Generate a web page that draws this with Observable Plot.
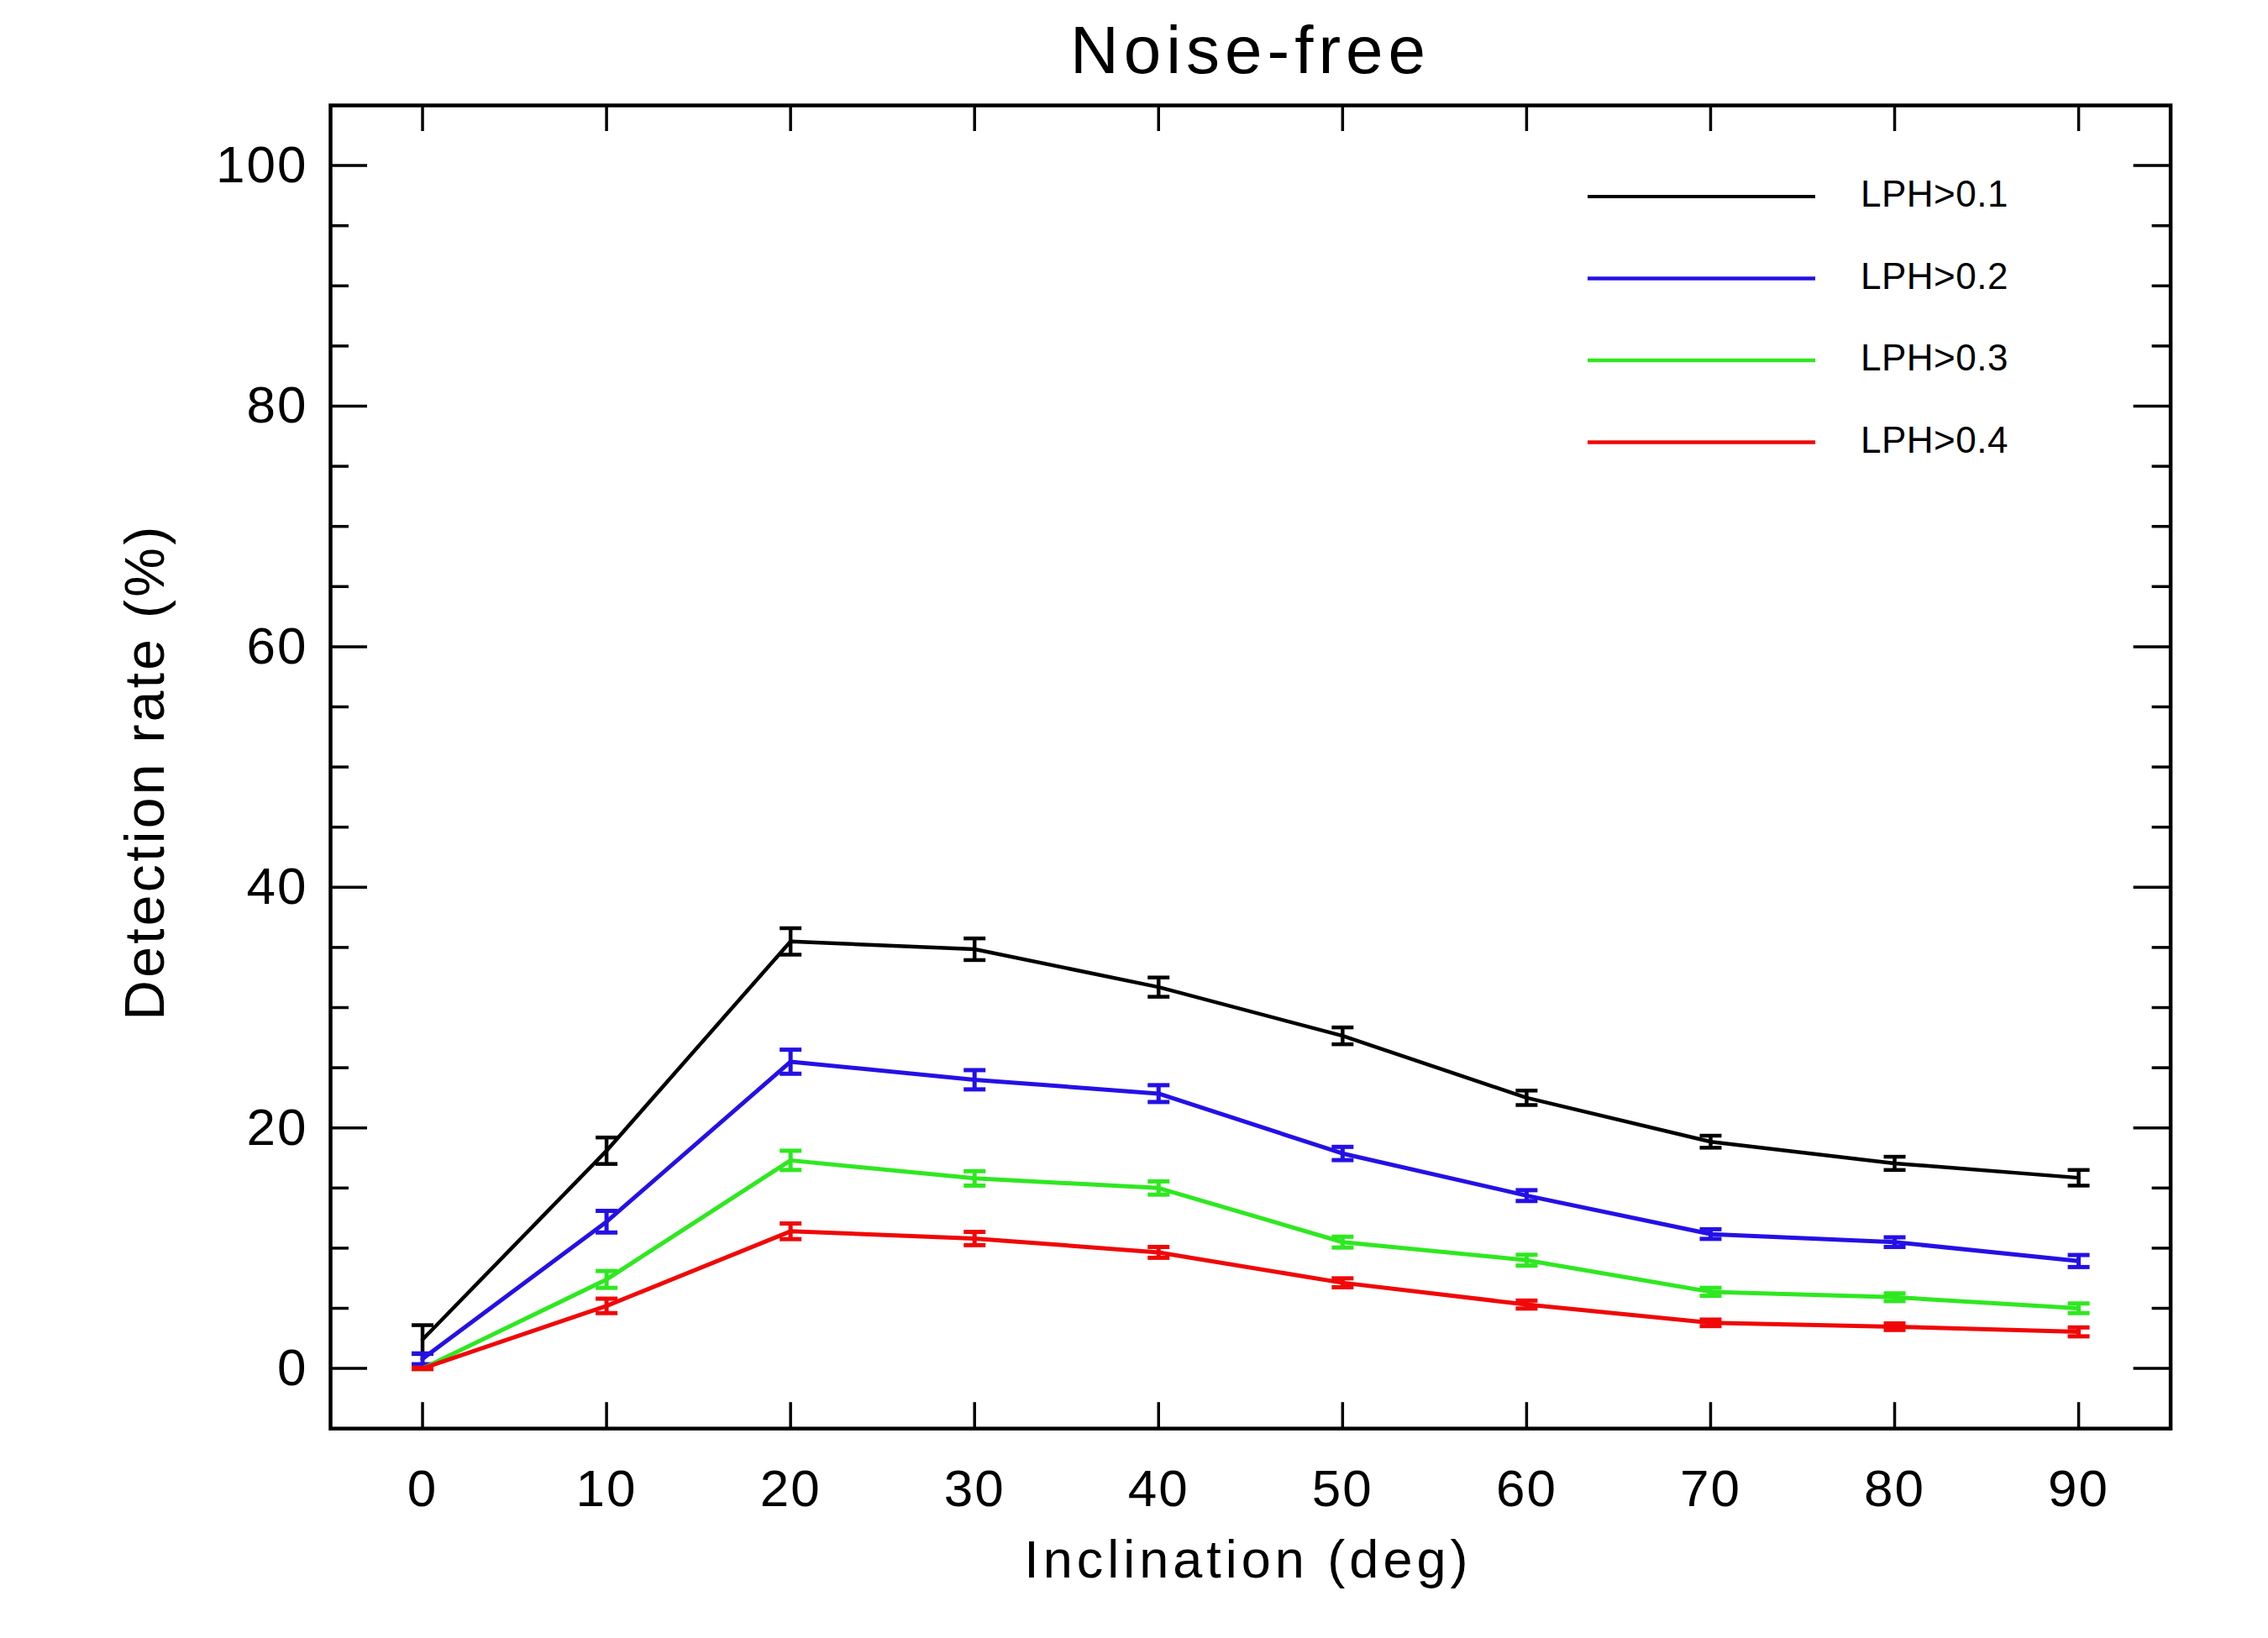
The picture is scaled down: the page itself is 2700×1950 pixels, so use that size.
<!DOCTYPE html>
<html><head><meta charset="utf-8">
<script src="https://cdn.jsdelivr.net/npm/d3@7"></script>
<script src="https://cdn.jsdelivr.net/npm/@observablehq/plot@0.6"></script>
<style>
html,body{margin:0;padding:0;background:#fff;}
#wrap{position:relative;width:2700px;height:1950px;font-family:"Liberation Sans",Arial,sans-serif;color:#000;}
#title{box-sizing:border-box;height:115px;padding:5px 116px 0 393px;line-height:110px;text-align:center;font-size:80px;letter-spacing:6px;white-space:nowrap;}
#legend{position:absolute;left:0;top:0;pointer-events:none;}
#chart svg g[aria-label="x-axis tick label"] text, #chart svg g[aria-label="y-axis tick label"] text{letter-spacing:2px;}
#chart svg g.xlab text{letter-spacing:5px;}
#chart svg g.ylab text{letter-spacing:3.3px;}
</style></head><body>
<div id="wrap"><div id="title"></div><div id="chart"></div><svg id="legend" width="2700" height="1950"></svg></div>
<script>
// ---- data ----
const titleText = "Noise-free";
const xLabel = "Inclination (deg)";
const yLabel = "Detection rate (%)";
const inclination = [0, 10, 20, 30, 40, 50, 60, 70, 80, 90];
const seriesNames = ["LPH>0.1", "LPH>0.2", "LPH>0.3", "LPH>0.4"];
const seriesColors = ["#000000", "#2410e6", "#2ee820", "#f00808"];
const rate01 = [2.4, 18.1, 35.5, 34.85, 31.7, 27.65, 22.5, 18.85, 17.05, 15.85];
const err01  = [1.2, 1.1, 1.1, 0.9, 0.8, 0.7, 0.6, 0.5, 0.55, 0.65];
const rate02 = [0.8, 12.2, 25.5, 24.0, 22.85, 17.87, 14.37, 11.17, 10.5, 8.93];
const err02  = [0.45, 0.9, 1.0, 0.8, 0.7, 0.55, 0.45, 0.4, 0.4, 0.5];
const rate03 = [0.0, 7.4, 17.3, 15.8, 15.0, 10.5, 9.0, 6.37, 5.92, 5.0];
const err03  = [0.05, 0.7, 0.8, 0.6, 0.55, 0.45, 0.45, 0.33, 0.32, 0.4];
const rate04 = [0.0, 5.2, 11.4, 10.8, 9.65, 7.12, 5.31, 3.79, 3.47, 3.04];
const err04  = [0.05, 0.6, 0.65, 0.55, 0.45, 0.37, 0.33, 0.27, 0.27, 0.37];
const xTickValues = [0, 10, 20, 30, 40, 50, 60, 70, 80, 90];
const yMajorTicks = [0, 20, 40, 60, 80, 100];
const yMinorTicks = [5, 10, 15, 25, 30, 35, 45, 50, 55, 65, 70, 75, 85, 90, 95];
const xDomain = [-5, 95];
const yDomain = [-5, 105];

// ---- layout / style ----
const rates = [rate01, rate02, rate03, rate04];
const errs = [err01, err02, err03, err04];
const lineWidths = [4.5, 5, 5, 5];
const legendWidths = [3.8, 4.5, 4.5, 4.5];
const W = 2700, H = 1835;
const mL = 393, mR = 116.4, mT = 10, mB = 249.8;
const plotW = W - mL - mR, plotH = H - mT - mB;
const xTickLen = 31, yMajLen = 44, yMinLen = 22;

document.getElementById("title").textContent = titleText;

const rows = [];
seriesNames.forEach((name, s) => inclination.forEach((inc, i) => rows.push({
  s, series: name, x: inc, y: rates[s][i], lo: rates[s][i] - errs[s][i], hi: rates[s][i] + errs[s][i]
})));

const capSymbol = {draw(ctx, size) { const r = Math.sqrt(size / Math.PI); ctx.moveTo(-r, 0); ctx.lineTo(r, 0); }};

const marks = [];
// ticks (inward)
marks.push(Plot.tickX(xTickValues, {x: d => d, insetTop: plotH - xTickLen, stroke: "#000", strokeWidth: 3.5}));
marks.push(Plot.tickX(xTickValues, {x: d => d, insetBottom: plotH - xTickLen, stroke: "#000", strokeWidth: 3.5}));
marks.push(Plot.tickY(yMajorTicks, {y: d => d, insetRight: plotW - yMajLen, stroke: "#000", strokeWidth: 3.5}));
marks.push(Plot.tickY(yMajorTicks, {y: d => d, insetLeft: plotW - yMajLen, stroke: "#000", strokeWidth: 3.5}));
marks.push(Plot.tickY(yMinorTicks, {y: d => d, insetRight: plotW - yMinLen, stroke: "#000", strokeWidth: 3.5}));
marks.push(Plot.tickY(yMinorTicks, {y: d => d, insetLeft: plotW - yMinLen, stroke: "#000", strokeWidth: 3.5}));
// tick labels
marks.push(Plot.axisX({ticks: xTickValues, tickSize: 0, tickPadding: 48, fontSize: 62, label: null}));
marks.push(Plot.axisY({ticks: yMajorTicks, tickSize: 0, tickPadding: 27, fontSize: 62, label: null}));
// axis titles
marks.push(Plot.text([xLabel], {text: d => d, frameAnchor: "bottom", lineAnchor: "bottom", textAnchor: "middle", dy: 177, dx: -3, fontSize: 63, className: "xlab"}));
marks.push(Plot.text([yLabel], {text: d => d, frameAnchor: "left", rotate: -90, lineAnchor: "bottom", textAnchor: "middle", dx: -199, dy: 6, fontSize: 66, className: "ylab"}));
// series
seriesNames.forEach((name, s) => {
  const d = rows.filter(r => r.s === s);
  const st = {stroke: seriesColors[s], strokeWidth: lineWidths[s]};
  marks.push(Plot.line(d, {x: "x", y: "y", ...st}));
  marks.push(Plot.ruleX(d, {x: "x", y1: "lo", y2: "hi", ...st}));
  marks.push(Plot.dot(d, {x: "x", y: "lo", r: 13, symbol: capSymbol, fill: "none", ...st}));
  marks.push(Plot.dot(d, {x: "x", y: "hi", r: 13, symbol: capSymbol, fill: "none", ...st}));
});
marks.push(Plot.frame({stroke: "#000", strokeWidth: 4.5}));

const chart = Plot.plot({
  width: W, height: H,
  marginLeft: mL, marginRight: mR, marginTop: mT, marginBottom: mB,
  x: {domain: xDomain},
  y: {domain: yDomain},
  style: {fontFamily: "'Liberation Sans', Arial, sans-serif", background: "white", color: "#000", overflow: "visible"},
  marks
});
document.getElementById("chart").appendChild(chart);

// legend
const leg = d3.select("#legend");
const legX1 = 1890, legX2 = 2161, legTextX = 2215, legTop = 234, legStep = 97.5;
seriesNames.forEach((name, s) => {
  const y = legTop + s * legStep;
  leg.append("line").attr("x1", legX1).attr("x2", legX2).attr("y1", y).attr("y2", y)
    .attr("stroke", seriesColors[s]).attr("stroke-width", legendWidths[s]);
  leg.append("text").attr("x", legTextX).attr("y", y + 12).text(name)
    .attr("font-family", "'Liberation Sans', Arial, sans-serif").attr("font-size", 44)
    .attr("letter-spacing", "0.5px").attr("fill", "#000");
});
</script>
</body></html>
